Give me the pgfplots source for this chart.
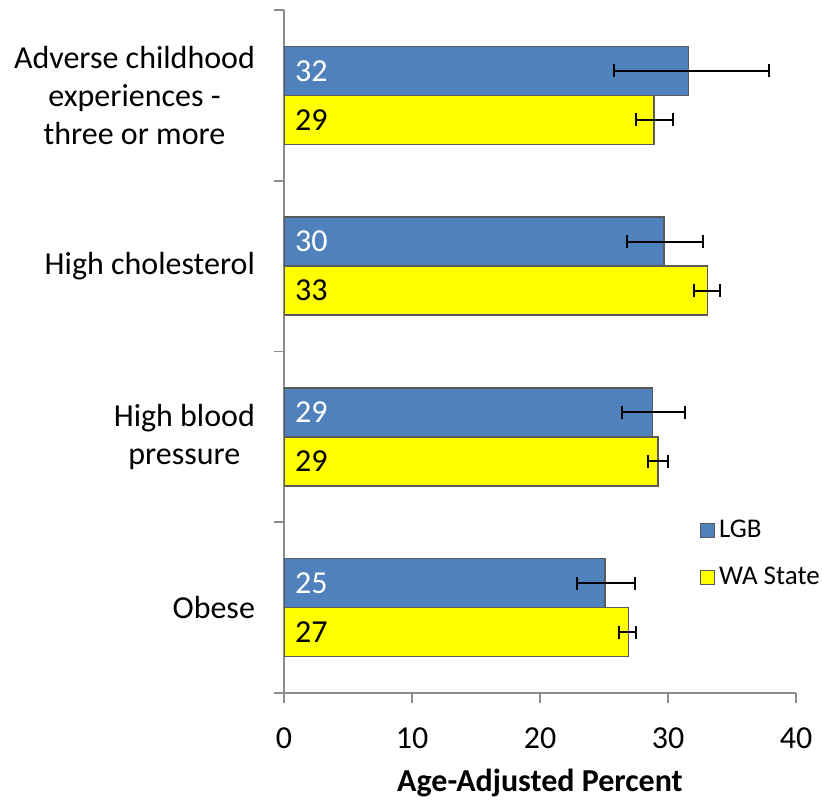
\documentclass[border=0pt]{standalone}
\usepackage{fontspec}
\setmainfont{Carlito}
\usepackage{pgfplots}
\pgfplotsset{compat=1.18}
\usepackage{pgfplotstable}

\definecolor{lgb}{HTML}{4F81BD}
\definecolor{wa}{HTML}{FFFF00}
\definecolor{axgray}{HTML}{8C8C8C}
\definecolor{bargray}{HTML}{5A5A5A}

\pgfplotstableread{
y x em ep lab
3 31.6 5.8 6.3 32
2 29.7 2.9 3.0 30
1 28.8 2.4 2.5 29
0 25.1 2.2 2.3 25
}\lgbdata
\pgfplotstableread{
y x em ep lab
3 28.9 1.4 1.5 29
2 33.1 1.1 1.0 33
1 29.2 0.8 0.8 29
0 26.9 0.7 0.6 27
}\wadata

\begin{document}
\begin{tikzpicture}
\begin{axis}[
  name=ax,
  width=256pt, height=341.5pt, scale only axis,
  xmin=0, xmax=40, ymin=-0.5, ymax=3.5,
  axis lines*=left,
  axis line style={axgray, line width=0.8pt, -},
  xtick={0,10,20,30,40},
  tick align=outside,
  major tick length=5pt,
  tick style={axgray, line width=0.8pt},
  /pgf/number format/assume math mode=true,
  xticklabel style={font=\fontsize{16}{19}\selectfont, yshift=-9pt},
  ytick={-0.5,0.5,1.5,2.5,3.5},
  yticklabels={},
  extra y ticks={0,1,2,3},
  extra y tick labels={Obese, {High blood\\pressure}, High cholesterol, {Adverse childhood\\experiences -\\three or more}},
  extra y tick style={tick style={draw=none}},
  yticklabel style={align=center, font=\fontsize{16}{19}\selectfont, xshift=-6pt},
  xlabel={\textbf{Age-Adjusted Percent}},
  xlabel style={font=\fontsize{16}{19}\selectfont, yshift=-3pt},
  legend style={at={(rel axis cs:0.80,0.265)}, anchor=north west, draw=none, fill=none,
    font=\fontsize{13.5}{16}\selectfont, row sep=9pt},
  legend cell align=left,
  legend image code/.code={\draw[#1, draw=bargray, line width=0.6pt] (0pt,-3.5pt) rectangle (7pt,3.5pt);},
]
\addplot[xbar, bar width=0.287, bar shift=0.1435, fill=lgb, draw=bargray, line width=0.8pt]
  table[x=x, y=y] {\lgbdata};
\addlegendentry{LGB}
\addplot[xbar, bar width=0.287, bar shift=-0.1435, fill=wa, draw=bargray, line width=0.8pt]
  table[x=x, y=y] {\wadata};
\addlegendentry{WA State}
% error bars
\addplot[draw=none, mark=none, forget plot,
  error bars/.cd, x dir=both, x explicit, error mark=|,
  error bar style={black, line width=1pt},
  error mark options={black, mark size=3.2pt, line width=1pt}]
  table[x=x, y expr=\thisrow{y}+0.1435, x error plus=ep, x error minus=em] {\lgbdata};
\addplot[draw=none, mark=none, forget plot,
  error bars/.cd, x dir=both, x explicit, error mark=|,
  error bar style={black, line width=1pt},
  error mark options={black, mark size=3.2pt, line width=1pt}]
  table[x=x, y expr=\thisrow{y}-0.1435, x error plus=ep, x error minus=em] {\wadata};
% value labels
\addplot[draw=none, mark=none, forget plot, nodes near coords, point meta=explicit symbolic,
  every node near coord/.append style={anchor=west, text=white, xshift=2pt, font=\fontsize{16}{19}\selectfont}]
  table[x expr=0, y expr=\thisrow{y}+0.1435, meta=lab] {\lgbdata};
\addplot[draw=none, mark=none, forget plot, nodes near coords, point meta=explicit symbolic,
  every node near coord/.append style={anchor=west, text=black, xshift=2pt, font=\fontsize{16}{19}\selectfont}]
  table[x expr=0, y expr=\thisrow{y}-0.1435, meta=lab] {\wadata};
\end{axis}
\pgfresetboundingbox
\path[use as bounding box] ([shift={(-142pt,-53.5pt)}]ax.south west) rectangle ([shift={(269pt,346.5pt)}]ax.south west);
\end{tikzpicture}
\end{document}
